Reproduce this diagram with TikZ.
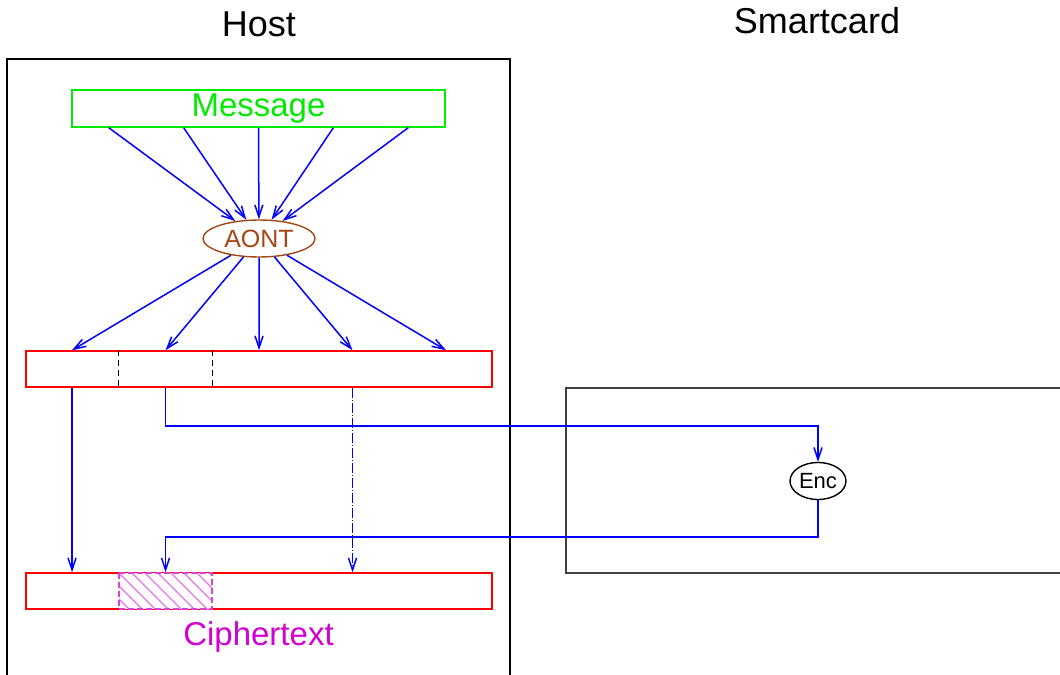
\documentclass[tikz,border=0pt]{standalone}
\usepackage{fontspec}
\setmainfont{Liberation Sans}
\usetikzlibrary{arrows.meta,shapes.geometric,calc}
\definecolor{msggreen}{RGB}{0,235,0}
\definecolor{aontbrown}{RGB}{165,70,20}
\definecolor{cmag}{RGB}{210,0,210}
\begin{document}
\begin{tikzpicture}[x=1bp,y=-1bp,
  flow/.style={draw=blue, line width=1.5bp, -{Straight Barb[length=12bp,width=8bp]}},
  bar/.style={draw=red, line width=1.5bp, minimum width=466bp, minimum height=36bp, inner sep=0pt},
  frame/.style={line width=1.5bp},
  title/.style={font=\fontsize{36bp}{40bp}\selectfont},
  biglabel/.style={font=\fontsize{33bp}{38bp}\selectfont}]
\path[use as bounding box] (0,0) rectangle (1060,675);
\clip (0,0) rectangle (1060,675);

% enclosures
\draw[frame, black] (7,59) rectangle (510,690);
\draw[frame, black!75] (566,388) rectangle (1075,573);
\node[title] (host) at (259,24) {Host};
\node[title] (card) at (817,21) {Smartcard};

% message and transform
\node[draw=msggreen, line width=1.4bp, minimum width=373bp, minimum height=37bp, inner sep=0pt,
      text=msggreen, biglabel] (msg) at (258.5,108.5) {Message};
\node[ellipse, draw=aontbrown, line width=1.4bp, text=aontbrown, minimum width=112bp,
      minimum height=37bp, inner sep=0pt, font=\fontsize{25bp}{28bp}\selectfont] (aont) at (259,238.5) {AONT};

% blocks
\node[bar] (top) at (259,369) {};
\node[bar] (bot) at (259,591) {};
\node[ellipse, draw=black, line width=1.4bp, minimum width=56bp, minimum height=37bp, inner sep=0pt,
      font=\fontsize{22bp}{25bp}\selectfont] (enc) at (818,481) {Enc};
\node[biglabel, text=cmag] (ct) at (258.5,637) {Ciphertext};

% message into AONT, AONT into blocks
\foreach \f in {0.1,0.3,0.5,0.7,0.9}{
  \draw[flow] ($(msg.south west)!\f!(msg.south east)$) -- (aont);
  \draw[flow] (aont) -- ($(top.north west)!\f!(top.north east)$);
}

% block separators
\foreach \f in {0.2,0.4}
  \draw[black, line width=1.4bp, dash pattern=on 6bp off 4bp]
    ($(top.north west)!\f!(top.north east)$) -- ($(top.south west)!\f!(top.south east)$);

% encrypted block (hatched)
\begin{scope}
  \fill[white] (119,573) rectangle (212,609);
  \clip (119,573) rectangle (212,609);
  \foreach \i in {-4,...,8}
    \draw[cmag!55, line width=1.2bp] (119+\i*13,573) -- ++(45,45);
\end{scope}
\draw[cmag!75, line width=1.4bp, dash pattern=on 6bp off 3bp] (119,573) rectangle (212,609);

% data paths
\draw[flow] ($(top.south west)!0.1!(top.south east)$) -- ($(bot.north west)!0.1!(bot.north east)$);
\draw[flow, dash pattern=on 10bp off 2bp on 1bp off 2bp]
  ($(top.south west)!0.7!(top.south east)$) -- ($(bot.north west)!0.7!(bot.north east)$);
\draw[flow] ($(top.south west)!0.3!(top.south east)$) -- ++(0,38) -| (enc.north);
\coordinate (ret) at ($(bot.north west)!0.3!(bot.north east)$);
\draw[flow] (enc.south) -- ++(0,37) -| (ret);
\end{tikzpicture}
\end{document}
